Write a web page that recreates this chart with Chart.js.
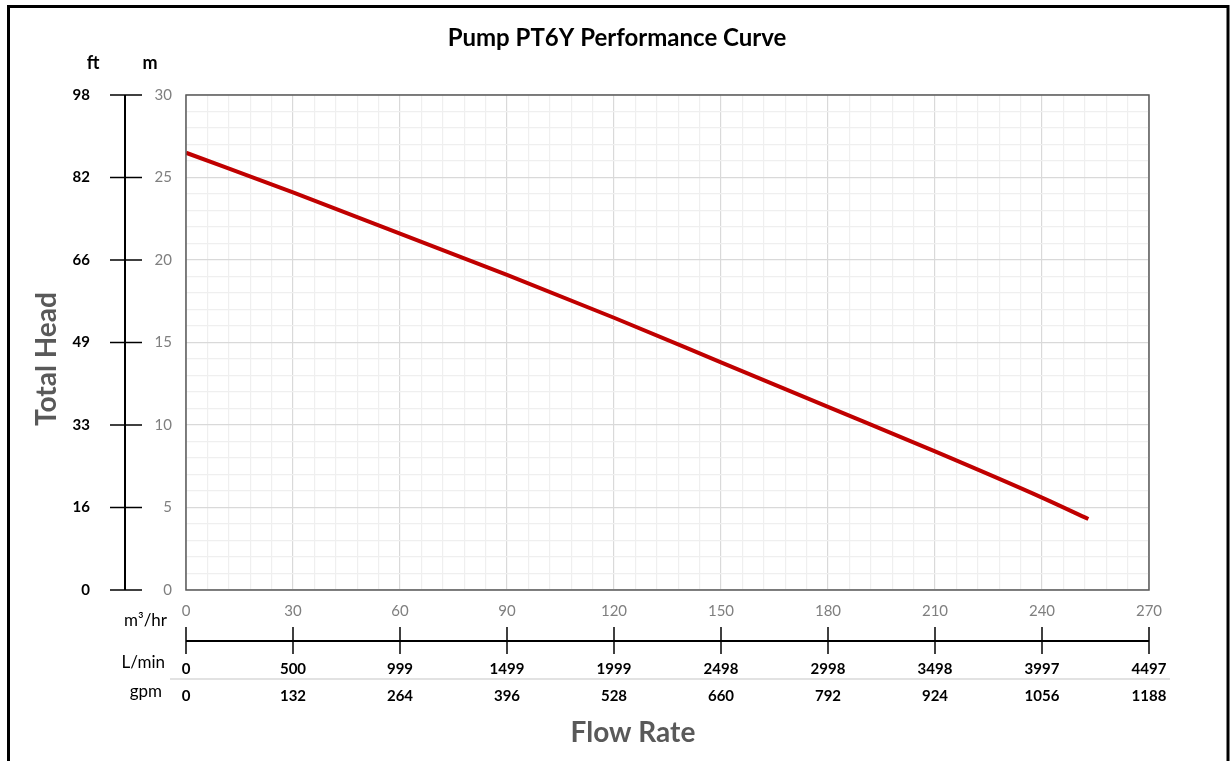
<!DOCTYPE html>
<html>
<head>
<meta charset="utf-8">
<title>Pump PT6Y Performance Curve</title>
<script src="https://cdn.jsdelivr.net/npm/chart.js@4.4.0/dist/chart.umd.min.js"></script>
<style>
  html, body { margin: 0; padding: 0; background: #fff; }
  canvas { display: block; }
</style>
</head>
<body>
<canvas id="curve" width="1232" height="761"></canvas>
<script>
// pump curve: flow in m3/hr, head in metres
const flowM3hr = [0, 30, 60, 90, 120, 150, 180, 210, 240, 253];
const headM = [26.5, 24.1, 21.6, 19.1, 16.5, 13.8, 11.1, 8.4, 5.6, 4.3];

// secondary axis labels
const flowTicks = [0, 30, 60, 90, 120, 150, 180, 210, 240, 270];
const lpmLabels = ['0', '500', '999', '1499', '1999', '2498', '2998', '3498', '3997', '4497'];
const gpmLabels = ['0', '132', '264', '396', '528', '660', '792', '924', '1056', '1188'];
const headTicks = [0, 5, 10, 15, 20, 25, 30];
const ftLabels = ['0', '16', '33', '49', '66', '82', '98'];

const FONT = 'Lato, "Open Sans", sans-serif';

const extraAxes = {
  id: 'extraAxes',
  afterDraw(chart) {
    const ctx = chart.ctx;
    const area = chart.chartArea;
    const xs = chart.scales.x;
    const ys = chart.scales.y;
    ctx.save();

    // plot frame
    ctx.strokeStyle = '#595959';
    ctx.lineWidth = 1.5;
    ctx.strokeRect(area.left, area.top, area.right - area.left, area.bottom - area.top);

    // outer frame
    ctx.strokeStyle = '#000';
    ctx.lineWidth = 3;
    ctx.strokeRect(8.5, 6.5, 1219.5, 800);

    // title
    ctx.fillStyle = '#000';
    ctx.font = 'bold 24px ' + FONT;
    ctx.textAlign = 'center';
    ctx.textBaseline = 'middle';
    ctx.fillText('Pump PT6Y Performance Curve', 617, 38);

    // feet axis on the left
    const axX = 125;
    ctx.strokeStyle = '#000';
    ctx.lineWidth = 2;
    ctx.beginPath();
    ctx.moveTo(axX, ys.getPixelForValue(0));
    ctx.lineTo(axX, ys.getPixelForValue(30));
    ctx.stroke();
    ctx.lineWidth = 1.5;
    ctx.font = 'bold 15px ' + FONT;
    ctx.textAlign = 'right';
    headTicks.forEach((v, i) => {
      const y = ys.getPixelForValue(v);
      ctx.beginPath();
      ctx.moveTo(110, y);
      ctx.lineTo(142, y);
      ctx.stroke();
      ctx.fillText(ftLabels[i], 90, y);
    });
    ctx.textAlign = 'center';
    ctx.font = 'bold 18px ' + FONT;
    ctx.fillText('ft', 93, 63);
    ctx.fillText('m', 150, 63);

    // y title
    ctx.save();
    ctx.translate(47, 359);
    ctx.rotate(-Math.PI / 2);
    ctx.fillStyle = '#595959';
    ctx.font = 'bold 28px ' + FONT;
    ctx.fillText('Total Head', 0, 0);
    ctx.restore();

    // flow axis strip below the plot
    const lineY = 641;
    ctx.strokeStyle = '#000';
    ctx.lineWidth = 2;
    ctx.beginPath();
    ctx.moveTo(xs.getPixelForValue(0), lineY);
    ctx.lineTo(xs.getPixelForValue(270), lineY);
    ctx.stroke();
    ctx.lineWidth = 1.5;
    flowTicks.forEach((v, i) => {
      const x = xs.getPixelForValue(v);
      ctx.beginPath();
      ctx.moveTo(x, 627);
      ctx.lineTo(x, 654);
      ctx.stroke();
      ctx.fillStyle = '#000';
      ctx.font = 'bold 15px ' + FONT;
      ctx.textAlign = 'center';
      ctx.fillText(lpmLabels[i], x, 669);
      ctx.fillText(gpmLabels[i], x, 696);
    });

    // separator between L/min and gpm rows
    ctx.strokeStyle = '#d9d9d9';
    ctx.lineWidth = 1.5;
    ctx.beginPath();
    ctx.moveTo(170, 679);
    ctx.lineTo(1170, 679);
    ctx.stroke();

    // row headers
    ctx.fillStyle = '#000';
    ctx.font = '17px ' + FONT;
    ctx.textAlign = 'right';
    ctx.fillText('m\u00b3/hr', 167, 621);
    ctx.fillText('L/min', 165, 663);
    ctx.fillText('gpm', 162, 692);

    // x title
    ctx.fillStyle = '#595959';
    ctx.font = 'bold 28px ' + FONT;
    ctx.textAlign = 'center';
    ctx.fillText('Flow Rate', 633, 733);

    ctx.restore();
  }
};

const gridColor = (c) => (c.tick && c.tick.value % (c.scale.axis === 'x' ? 30 : 5) === 0) ? '#d9d9d9' : '#efefef';

new Chart(document.getElementById('curve'), {
  type: 'line',
  data: {
    datasets: [{
      label: 'Head',
      data: flowM3hr.map((x, i) => ({ x: x, y: headM[i] })),
      borderColor: '#c00000',
      borderWidth: 4,
      pointRadius: 0,
      cubicInterpolationMode: 'monotone',
      fill: false
    }]
  },
  options: {
    responsive: false,
    animation: false,
    layout: { padding: { top: 95, right: 83, left: 0, bottom: 0 } },
    plugins: {
      legend: { display: false },
      tooltip: { enabled: false }
    },
    scales: {
      x: {
        type: 'linear',
        min: 0,
        max: 270,
        afterFit: (s) => { s.height = 171; },
        border: { display: false },
        grid: { color: gridColor, lineWidth: 1.2, drawTicks: false },
        ticks: {
          stepSize: 6,
          autoSkip: false,
          maxRotation: 0,
          padding: 12,
          color: '#7f7f7f',
          font: { family: FONT, size: 15 },
          callback: (v) => (v % 30 === 0 ? v : '')
        }
      },
      y: {
        type: 'linear',
        min: 0,
        max: 30,
        afterFit: (s) => { s.width = 186; },
        border: { display: false },
        grid: { color: gridColor, lineWidth: 1.2, drawTicks: false },
        ticks: {
          stepSize: 1,
          autoSkip: false,
          padding: 14,
          color: '#7f7f7f',
          font: { family: FONT, size: 15 },
          callback: (v) => (v % 5 === 0 ? v : '')
        }
      }
    }
  },
  plugins: [extraAxes]
});
</script>
</body>
</html>
